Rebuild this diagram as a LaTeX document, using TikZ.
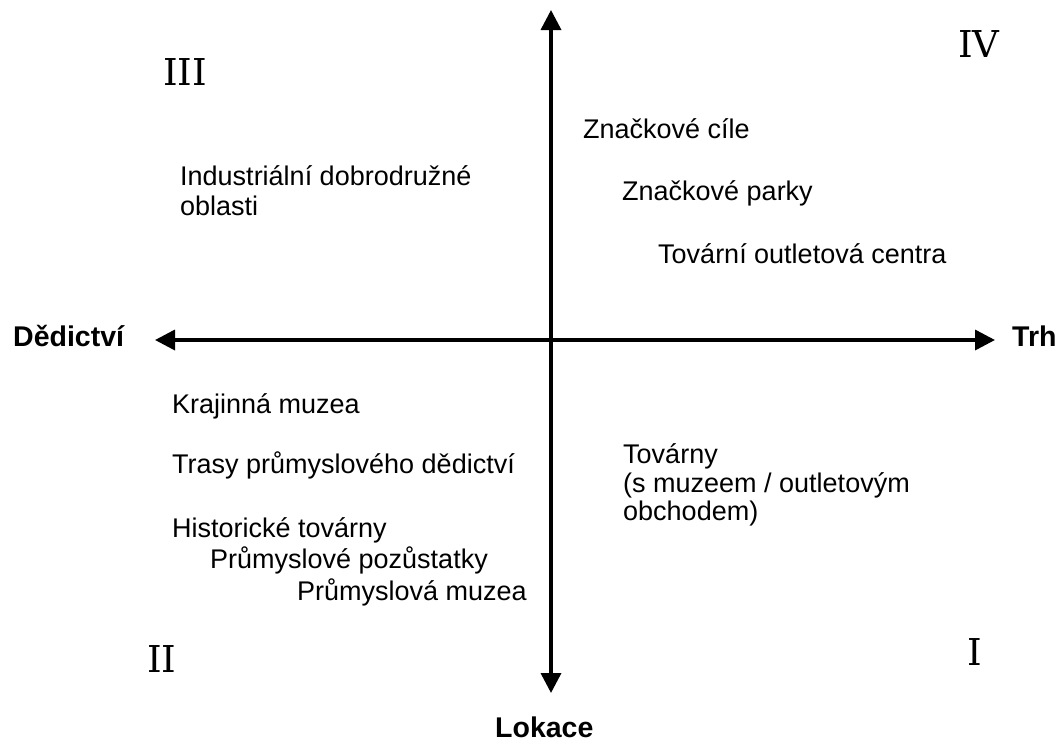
\documentclass[tikz,border=0pt]{standalone}
\usepackage{fontspec}
\setmainfont{Liberation Sans}
\newfontfamily\numfont{DejaVu Serif}
\usetikzlibrary{arrows.meta}
\tikzset{
  axis/.style={line width=3.5pt,{Triangle[width=20pt,length=20pt]}-{Triangle[width=20pt,length=20pt]}},
  lbl/.style={anchor=base west,inner sep=0pt,font=\fontsize{27}{29}\selectfont},
  axlbl/.style={anchor=base west,inner sep=0pt,font=\fontsize{28.5}{30}\selectfont\bfseries},
  quad/.style={anchor=base west,inner sep=0pt,font=\fontsize{37}{40}\numfont}
}
\begin{document}
\begin{tikzpicture}[x=1pt,y=-1pt]
\useasboundingbox (0,0) rectangle (1060,742);
% axes
\coordinate (top) at (551,10);
\coordinate (bot) at (551,693);
\coordinate (left) at (155,340);
\coordinate (right) at (995,340);
\draw[axis] (bot) -- (top);
\draw[axis] (left) -- (right);
% axis labels
\node[axlbl] (ded) at (13,346) {Dědictví};
\node[axlbl] (trh) at (1012,346) {Trh};
\node[axlbl] (lok) at (495,737) {Lokace};
% quadrant numerals
\node[quad] (q3) at (163,85) {III};
\node[quad] (q4) at (958,57) {IV};
\node[quad] (q2) at (147,672) {II};
\node[quad] (q1) at (967,665) {I};
% quadrant III
\node[lbl] (ind1) at (180,185) {Industriální dobrodružné};
\node[lbl] (ind2) at (180,215) {oblasti};
% quadrant IV
\node[lbl] (zc) at (583,138) {Značkové cíle};
\node[lbl] (zp) at (622,200) {Značkové parky};
\node[lbl] (toc) at (658,263) {Tovární outletová centra};
% quadrant II
\node[lbl] (km) at (172,413) {Krajinná muzea};
\node[lbl] (tpd) at (172,473) {Trasy průmyslového dědictví};
\node[lbl] (ht) at (172,537) {Historické továrny};
\node[lbl] (pp) at (210,568) {Průmyslové pozůstatky};
\node[lbl] (pm) at (297,600) {Průmyslová muzea};
% quadrant I
\node[lbl] (tv1) at (623,463) {Továrny};
\node[lbl] (tv2) at (623,492) {(s muzeem / outletovým};
\node[lbl] (tv3) at (623,520) {obchodem)};
\end{tikzpicture}
\end{document}
